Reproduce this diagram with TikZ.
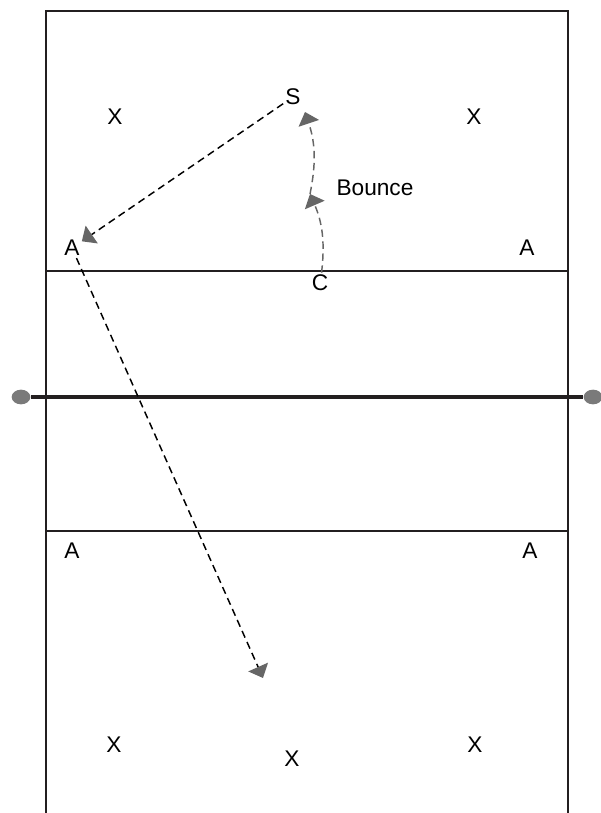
\documentclass[tikz,border=0pt]{standalone}
\usepackage{fontspec}
\setmainfont{Liberation Sans}
\usetikzlibrary{arrows.meta,shapes.geometric}
\definecolor{tipgray}{HTML}{666666}
\definecolor{postgray}{HTML}{7A7A7A}
\definecolor{linedark}{HTML}{231F20}

\begin{document}
\begin{tikzpicture}[x=0.75pt,y=-0.75pt,court/.style={line width=1.5pt,draw=linedark},net/.style={line width=3pt,draw=linedark},post/.style={ellipse,fill=postgray,minimum width=14pt,minimum height=11pt,inner sep=0pt},player/.style={font=\fontsize{17}{20}\selectfont,inner sep=1.5pt},pass/.style={line width=1.1pt,dash pattern=on 5.5pt off 3.5pt,-{Triangle[length=9pt,width=16pt,color=tipgray]}},bounce/.style={line width=1.1pt,draw=tipgray,dash pattern=on 5.5pt off 3.5pt,-{Triangle[length=9pt,width=16pt,color=tipgray]}}]
\useasboundingbox (0,0) rectangle (600,813);
% court
\draw[court] (46,813) -- (46,11) -- (568,11) -- (568,813);
\draw[court] (46,271) -- (568,271);
\draw[court] (46,531) -- (568,531);
% net
\node[post] (postL) at (21,397) {};
\node[post] (postR) at (593,397) {};
\draw[net] (postL.east) -- (postR.west);
% players
\node[player] (x1) at (115,117) {X};
\node[player] (s) at (293,97) {S};
\node[player] (x2) at (474,117) {X};
\node[player] (aL) at (72,248) {A};
\node[player] (aR) at (527,248) {A};
\node[player] (c) at (320,283) {C};
\node[player] (aBL) at (72,551) {A};
\node[player] (aBR) at (530,551) {A};
\node[player] (x3) at (114,745) {X};
\node[player] (x4) at (292,759) {X};
\node[player] (x5) at (475,745) {X};
\node[player] (lbl) at (375,188) {Bounce};
% ball path
\coordinate (mid) at (310,194);
\coordinate (top) at (305,112);
\coordinate (land) at (263,678);
\draw[bounce] (c) to[bend right=15] (mid);
\draw[bounce] (mid) to[bend right=15] (top);
\draw[pass] (s) -- (aL);
\draw[pass] (aL) -- (land);
\end{tikzpicture}
\end{document}
